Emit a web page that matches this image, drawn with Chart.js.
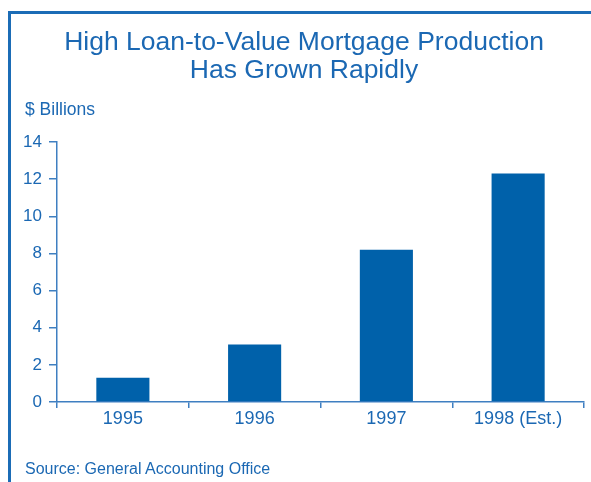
<!DOCTYPE html>
<html>
<head>
<meta charset="utf-8">
<script src="https://cdn.jsdelivr.net/npm/chart.js@4/dist/chart.umd.min.js"></script>
<style>
body{margin:0;background:#fff;width:591px;height:482px;overflow:hidden;position:relative;font-family:"Liberation Sans",Arial,sans-serif;color:#1b68b3;}
#frame{position:absolute;left:8px;top:11px;width:640px;height:520px;border-left:3px solid #1b6cb6;border-top:3px solid #1b6cb6;}
#title{position:absolute;left:17px;top:27px;width:574px;text-align:center;font-size:26.5px;line-height:28px;}
#unit{position:absolute;left:25px;top:101px;font-size:17.5px;line-height:17.5px;}
#source{position:absolute;left:25px;top:461px;font-size:16px;line-height:16px;}
#chart{position:absolute;left:0;top:0;}
</style>
</head>
<body>
<div id="frame"></div>
<canvas id="chart" width="591" height="482"></canvas>
<div id="title">High Loan-to-Value Mortgage Production<br>Has Grown Rapidly</div>
<div id="unit">$ Billions</div>
<div id="source">Source: General Accounting Office</div>
<script>
// data
const years=['1995','1996','1997','1998 (Est.)'];
const production=[1.3,3.1,8.2,12.3];
const yTicks=[0,2,4,6,8,10,12,14];

const textColor='#1b68b3';
const axisColor='#3f7fc1';
const barColor='#0061aa';

new Chart(document.getElementById('chart'),{
    type:'bar',
    data:{labels:years,datasets:[{data:production,backgroundColor:barColor,borderWidth:0,categoryPercentage:1,barPercentage:0.403}]},
    options:{
        responsive:false,
        animation:false,
        devicePixelRatio:1,
        layout:{padding:{top:142,right:7,bottom:50,left:0}},
        plugins:{legend:{display:false},tooltip:{enabled:false},title:{display:false}},
        scales:{
            x:{
                grid:{display:true,offset:true,drawOnChartArea:false,tickLength:6,color:axisColor,lineWidth:1.5},
                border:{display:true,color:axisColor,width:1.5},
                ticks:{color:textColor,font:{family:'"Liberation Sans", Arial, sans-serif',size:18},padding:0,maxRotation:0},
                afterFit:(s)=>{s.height=30;}
            },
            y:{
                min:0,max:14,
                afterBuildTicks:(s)=>{s.ticks=yTicks.map(v=>({value:v}));},
                grid:{display:true,drawOnChartArea:false,tickLength:8,color:axisColor,lineWidth:1.5},
                border:{display:true,color:axisColor,width:1.5},
                ticks:{color:textColor,font:{family:'"Liberation Sans", Arial, sans-serif',size:17},padding:7},
                afterFit:(s)=>{s.width=57;}
            }
        }
    }
});
</script>
</body>
</html>
